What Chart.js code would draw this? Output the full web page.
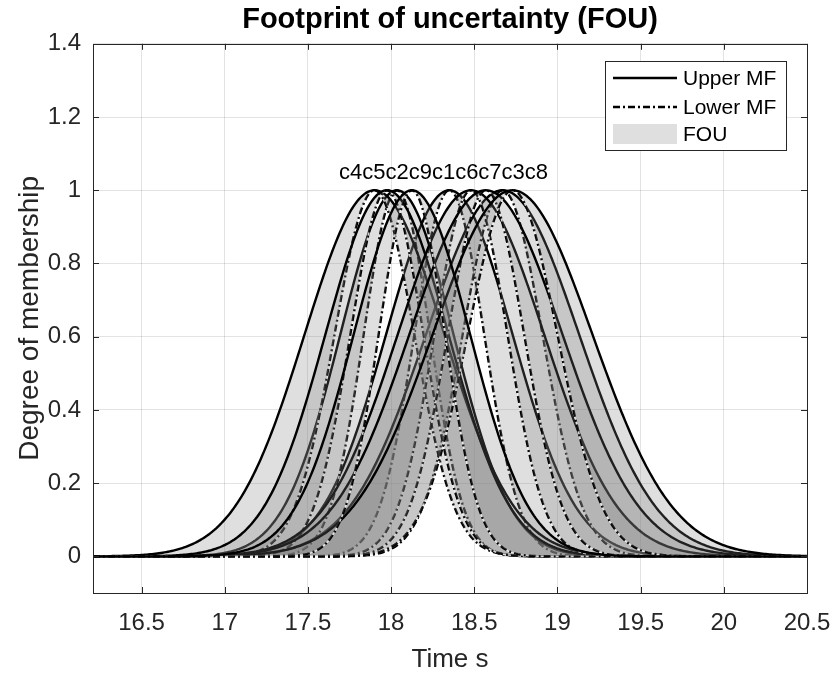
<!DOCTYPE html>
<html>
<head>
<title>Footprint of uncertainty (FOU)</title>
<script src="https://cdn.jsdelivr.net/npm/chart.js"></script>
<style>
  html, body { margin: 0; padding: 0; background: #ffffff; }
  canvas { display: block; }
</style>
</head>
<body>
<canvas id="fou" width="832" height="675"></canvas>
<script>
  // gaussian MF parameters per cluster, in plotting order
  var clusterNames = ['c1', 'c2', 'c3', 'c4', 'c5', 'c6', 'c7', 'c8', 'c9'];
  var centers      = [18.35, 18.035, 18.67, 17.90, 17.975, 18.48, 18.57, 18.73, 18.125];
  var upperSigma   = [0.38, 0.34, 0.46, 0.42, 0.37, 0.44, 0.46, 0.48, 0.35];
  var lowerSigma   = [0.21, 0.20, 0.24, 0.24, 0.22, 0.22, 0.23, 0.27, 0.20];

  var xTicks = [16.5, 17, 17.5, 18, 18.5, 19, 19.5, 20, 20.5];
  var yTicks = [0, 0.2, 0.4, 0.6, 0.8, 1, 1.2, 1.4];
  var xRange = [16.208, 20.5];
  var yRange = [-0.1, 1.4];
  var legendNames = ['Upper MF', 'Lower MF', 'FOU'];

  var FONT = "'Liberation Sans', Arial, Helvetica, sans-serif";
  var AXIS_COLOR = '#262626';
  var FOU_COLOR = 'rgba(128,128,128,0.25)';
  var DASHDOT = [7, 3, 2, 3];

  function gaussmf(x, c, s) {
    return Math.exp(-((x - c) * (x - c)) / (2 * s * s));
  }

  // evaluation grid along the time axis
  var nSamples = 400;
  var xs = [];
  for (var i = 0; i <= nSamples; i++) {
    xs.push(xRange[0] + i * (xRange[1] - xRange[0]) / nSamples);
  }

  // last plotted cluster goes first so it ends up on top
  var datasets = [];
  for (var k = clusterNames.length - 1; k >= 0; k--) {
    var up = xs.map(function (x) { return { x: x, y: gaussmf(x, centers[k], upperSigma[k]) }; });
    var lo = xs.map(function (x) { return { x: x, y: gaussmf(x, centers[k], lowerSigma[k]) }; });
    datasets.push({
      label: clusterNames[k] + ' upper',
      data: up,
      borderColor: '#000000',
      borderWidth: 2.4,
      backgroundColor: FOU_COLOR,
      fill: '+1',
      pointRadius: 0
    });
    datasets.push({
      label: clusterNames[k] + ' lower',
      data: lo,
      borderColor: '#000000',
      borderWidth: 2.4,
      borderDash: DASHDOT,
      fill: false,
      pointRadius: 0
    });
    // white under the dash gaps, like the exported figure
    datasets.push({
      label: clusterNames[k] + ' lower (gap)',
      data: lo,
      borderColor: 'rgba(255,255,255,0.85)',
      borderWidth: 1.6,
      fill: false,
      pointRadius: 0
    });
  }

  // box, inward ticks, cluster names and legend, MATLAB style
  var decorPlugin = {
    id: 'decor',
    afterDatasetsDraw: function (chart) {
      var ctx = chart.ctx;
      var a = chart.chartArea;
      var sx = chart.scales.x, sy = chart.scales.y;
      ctx.save();

      // cluster names in a row above the peaks
      ctx.font = '22px ' + FONT;
      ctx.fillStyle = '#000000';
      ctx.textBaseline = 'alphabetic';
      ctx.textAlign = 'left';
      var order = clusterNames.map(function (n, i) { return i; })
        .sort(function (p, q) { return centers[p] - centers[q]; });
      var total = 0, mean = 0;
      order.forEach(function (i) { total += ctx.measureText(clusterNames[i]).width; mean += centers[i]; });
      mean /= order.length;
      var tx = sx.getPixelForValue(mean) - total / 2;
      var ty = sy.getPixelForValue(1.03);
      order.forEach(function (i) {
        ctx.fillText(clusterNames[i], tx, ty);
        tx += ctx.measureText(clusterNames[i]).width;
      });

      // axes box + inward ticks
      ctx.strokeStyle = AXIS_COLOR;
      ctx.lineWidth = 1;
      ctx.strokeRect(Math.round(a.left) + 0.5, Math.round(a.top) + 0.5,
        Math.round(a.right - a.left), Math.round(a.bottom - a.top));
      ctx.beginPath();
      xTicks.forEach(function (v) {
        var px = Math.round(sx.getPixelForValue(v)) + 0.5;
        ctx.moveTo(px, a.bottom); ctx.lineTo(px, a.bottom - 6);
        ctx.moveTo(px, a.top); ctx.lineTo(px, a.top + 6);
      });
      yTicks.forEach(function (v) {
        var py = Math.round(sy.getPixelForValue(v)) + 0.5;
        ctx.moveTo(a.left, py); ctx.lineTo(a.left + 6, py);
        ctx.moveTo(a.right, py); ctx.lineTo(a.right - 6, py);
      });
      ctx.stroke();

      // legend
      var lx = Math.round(a.right) - 202, ly = Math.round(a.top) + 17, lw = 181, lh = 89;
      ctx.fillStyle = '#ffffff';
      ctx.fillRect(lx, ly, lw, lh);
      ctx.strokeRect(lx + 0.5, ly + 0.5, lw, lh);
      var rows = [ly + 17, ly + 46, ly + 73];
      ctx.strokeStyle = '#000000';
      ctx.lineWidth = 2.4;
      ctx.beginPath();
      ctx.moveTo(lx + 8, rows[0]); ctx.lineTo(lx + 72, rows[0]);
      ctx.stroke();
      ctx.setLineDash(DASHDOT);
      ctx.beginPath();
      ctx.moveTo(lx + 8, rows[1]); ctx.lineTo(lx + 72, rows[1]);
      ctx.stroke();
      ctx.setLineDash([]);
      ctx.fillStyle = FOU_COLOR;
      ctx.fillRect(lx + 8, rows[2] - 10, 64, 20);
      ctx.fillStyle = '#000000';
      ctx.font = '21px ' + FONT;
      ctx.textBaseline = 'middle';
      legendNames.forEach(function (t, i) { ctx.fillText(t, lx + 78, rows[i] + 1); });

      ctx.restore();
    }
  };

  Chart.defaults.font.family = FONT;
  Chart.defaults.color = AXIS_COLOR;

  var chart = new Chart(document.getElementById('fou').getContext('2d'), {
    type: 'line',
    data: { datasets: datasets },
    plugins: [decorPlugin],
    options: {
      responsive: false,
      animation: false,
      events: [],
      layout: { padding: { left: 0, right: 0, top: 0, bottom: 0 } },
      elements: { line: { tension: 0 } },
      plugins: {
        legend: { display: false },
        tooltip: { enabled: false },
        filler: { propagate: false },
        title: {
          display: true,
          fullSize: false,
          text: 'Footprint of uncertainty (FOU)',
          color: '#000000',
          font: { size: 29, weight: 'bold' },
          padding: { top: 3, bottom: 6 }
        }
      },
      scales: {
        x: {
          type: 'linear',
          min: xRange[0],
          max: xRange[1],
          afterBuildTicks: function (s) { s.ticks = xTicks.map(function (v) { return { value: v }; }); },
          afterFit: function (s) { s.height = 82; s.paddingRight = 25; },
          ticks: {
            font: { size: 24 },
            padding: 16,
            maxRotation: 0,
            callback: function (v) { return String(v); }
          },
          grid: { color: 'rgba(38,38,38,0.13)', drawTicks: false },
          border: { display: false },
          title: { display: true, text: 'Time s', font: { size: 26 }, padding: { top: 0, bottom: 0 } }
        },
        y: {
          min: yRange[0],
          max: yRange[1],
          afterBuildTicks: function (s) { s.ticks = yTicks.map(function (v) { return { value: v }; }); },
          afterFit: function (s) { s.width = 93; },
          ticks: {
            font: { size: 24 },
            padding: 12,
            callback: function (v) { return String(v); }
          },
          grid: { color: 'rgba(38,38,38,0.13)', drawTicks: false },
          border: { display: false },
          title: { display: true, text: 'Degree of membership', font: { size: 28 }, padding: { top: 13, bottom: 0 } }
        }
      }
    }
  });
</script>
</body>
</html>
